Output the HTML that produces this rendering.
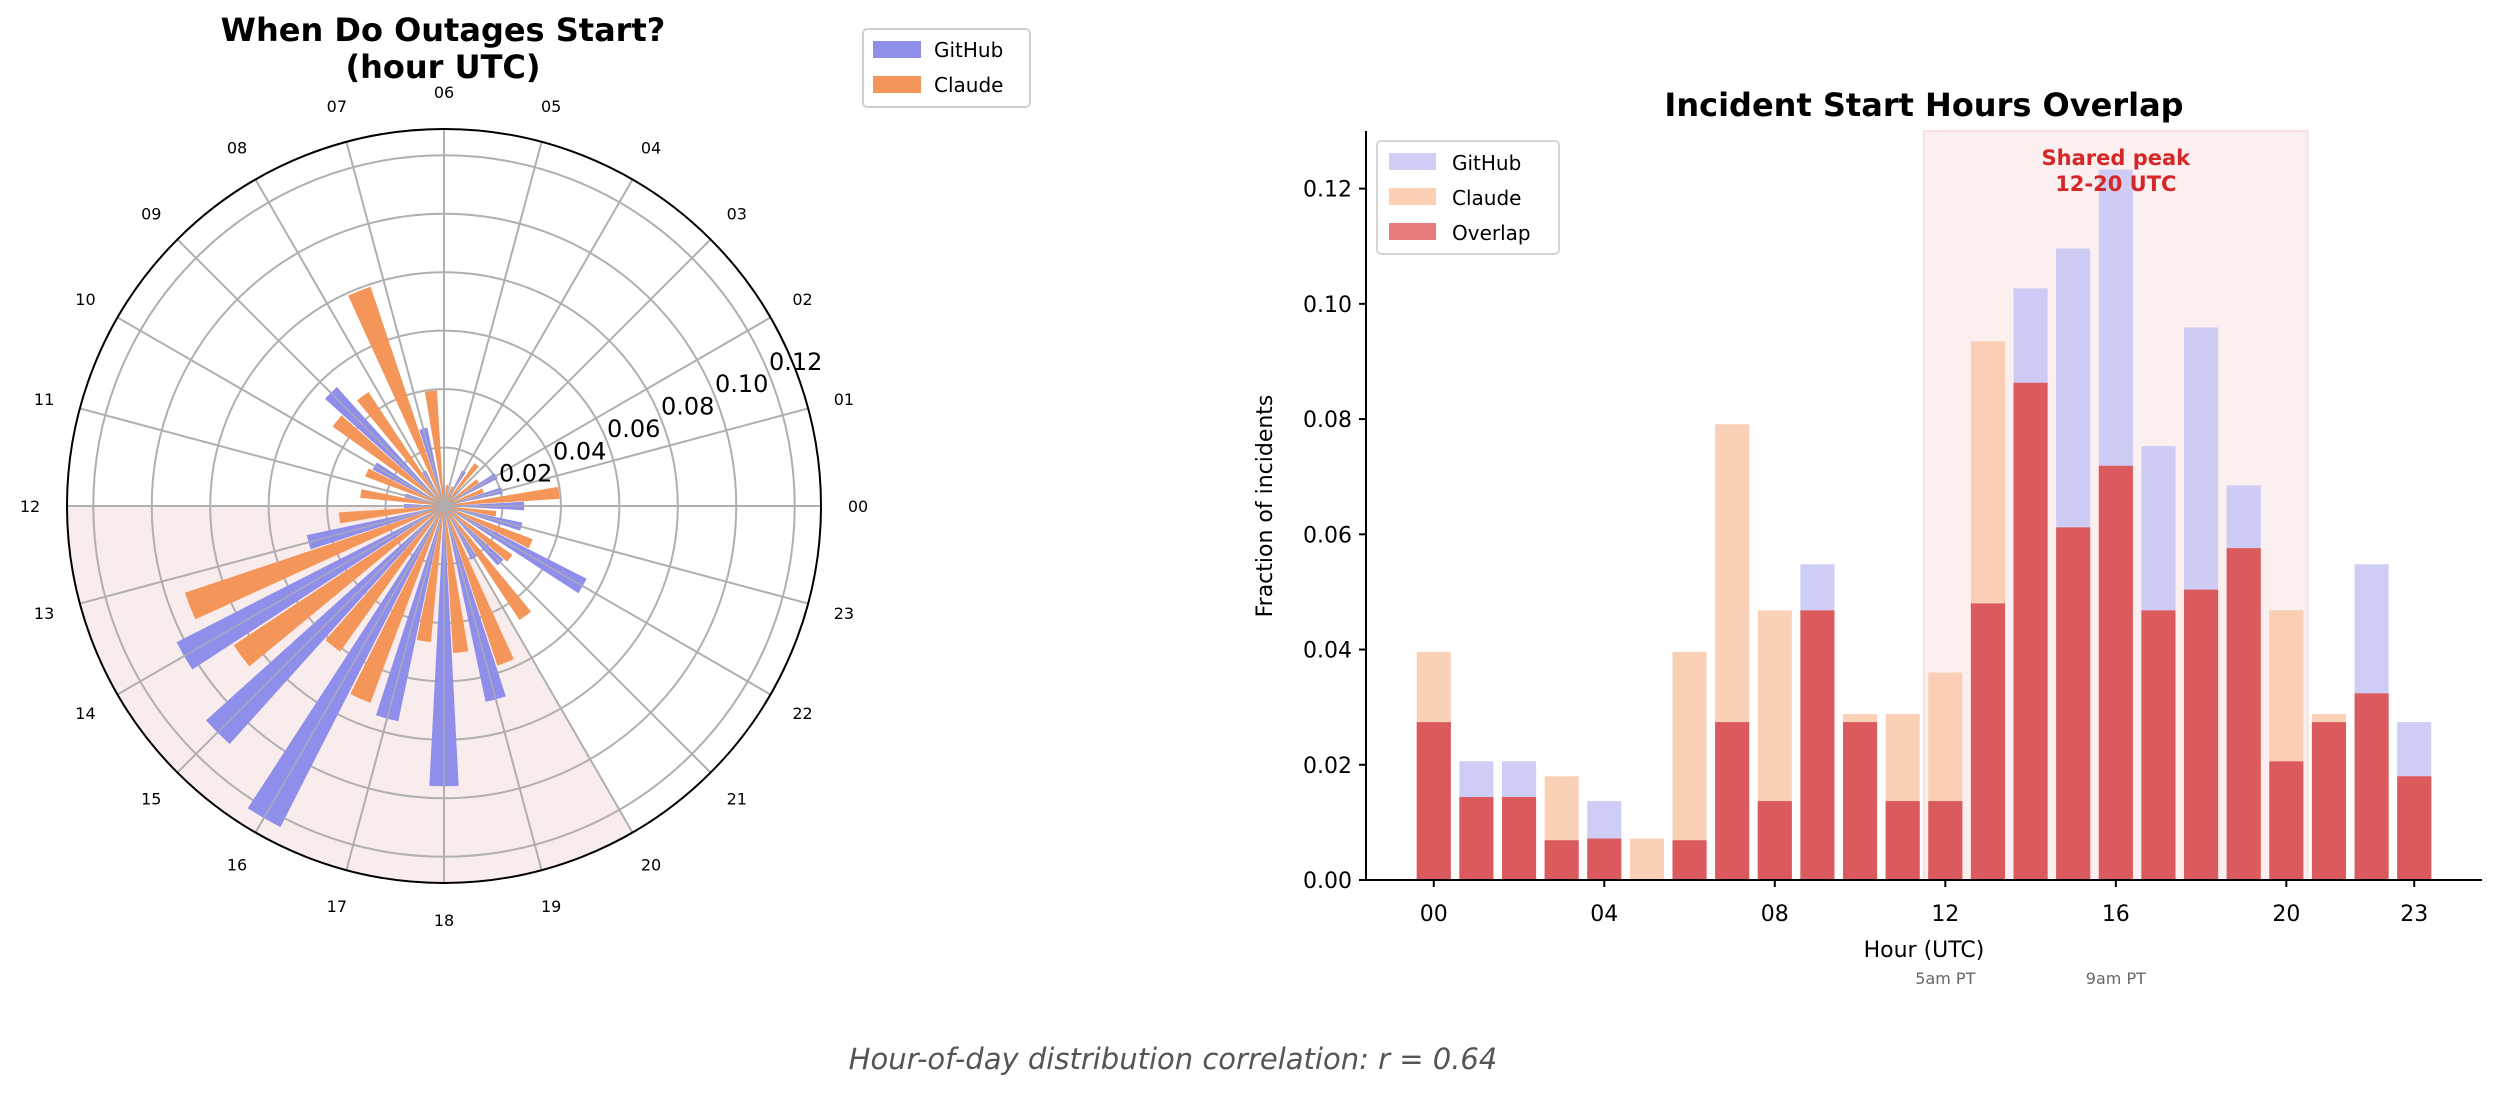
<!DOCTYPE html>
<html><head><meta charset="utf-8"><style>
html,body{margin:0;padding:0;background:#fff;}
svg{display:block;font-family:"DejaVu Sans","Liberation Sans",sans-serif;}
</style></head><body>
<svg id="chart" width="2500" height="1096" viewBox="0 0 2500 1096" xmlns="http://www.w3.org/2000/svg">
<g id="polar"></g>
<g id="bars"></g>
<text x="1173" y="1069" text-anchor="middle" font-size="29" font-style="italic" fill="#555">Hour-of-day distribution correlation: r = 0.64</text>
</svg>
<script>
const hours = [0,1,2,3,4,5,6,7,8,9,10,11,12,13,14,15,16,17,18,19,20,21,22,23];
const githubValues = [0.0274,0.0206,0.0206,0.0069,0.0137,0,0.0069,0.0274,0.0137,0.0548,0.0274,0.0137,0.0137,0.0480,0.1027,0.1096,0.1233,0.0753,0.0959,0.0685,0.0206,0.0274,0.0548,0.0274];
const claudeValues = [0.0396,0.0144,0.0144,0.0180,0.0072,0.0072,0.0396,0.0791,0.0468,0.0468,0.0288,0.0288,0.0360,0.0935,0.0863,0.0612,0.0719,0.0468,0.0504,0.0576,0.0468,0.0288,0.0324,0.0180];
const radialTicks = [0.02,0.04,0.06,0.08,0.10,0.12];
const yTicks = [0,0.02,0.04,0.06,0.08,0.10,0.12];
const xTicks = [0,4,8,12,16,20,23];
const hourLabels = ["00","01","02","03","04","05","06","07","08","09","10","11","12","13","14","15","16","17","18","19","20","21","22","23"];

const NS = "http://www.w3.org/2000/svg";
function mk(parent, tag, attrs, text){
  const e = document.createElementNS(NS, tag);
  for (const k in attrs) e.setAttribute(k, attrs[k]);
  if (text !== undefined) e.textContent = text;
  parent.appendChild(e);
  return e;
}

/* ---------- polar chart ---------- */
const P = document.getElementById('polar');
const cx = 444, cy = 506, R = 377, rMax = 0.129;
const rScale = v => v / rMax * R;
const pt = (deg, r) => [cx + r*Math.cos(deg*Math.PI/180), cy - r*Math.sin(deg*Math.PI/180)];
function wedge(d0, d1, r0, r1){
  const a = pt(d0, r1), b = pt(d1, r1), c = pt(d1, r0), d = pt(d0, r0);
  const large = (d1-d0) > 180 ? 1 : 0;
  return `M${a[0]},${a[1]} A${r1},${r1} 0 ${large} 0 ${b[0]},${b[1]} L${c[0]},${c[1]} ` + (r0>0?`A${r0},${r0} 0 ${large} 1 ${d[0]},${d[1]}`:'') + ' Z';
}
let el;
el = mk(P,'path',{d:wedge(180,300,0,R),fill:'#f9ecec'});


radialTicks.forEach(t=>{
  el = mk(P,'circle',{cx:cx,cy:cy,r:rScale(t),fill:'none',stroke:'#b0b0b0','stroke-width':2});
  
  
});
hours.forEach(h=>{
  const e = pt(h*15, R);
  el = mk(P,'line',{x1:cx,y1:cy,x2:e[0],y2:e[1],stroke:'#b0b0b0','stroke-width':2});
  
  
});
const bw = 6;
hours.forEach((h,i)=>{
  const ang = h*15;
  if (githubValues[i] > 0) {
    el = mk(P,'path',{d:wedge(ang-bw/2, ang+bw/2, 0, rScale(githubValues[i])),fill:'#8f8eea'});
    
    
  }
  if (claudeValues[i] > 0) {
    el = mk(P,'path',{d:wedge(ang+6.5-bw/2, ang+6.5+bw/2, 0, rScale(claudeValues[i])),fill:'#f4965a'});
    
    
  }
});
hours.forEach(h=>{
  const e = pt(h*15, R);
  el = mk(P,'line',{x1:cx,y1:cy,x2:e[0],y2:e[1],stroke:'#b0b0b0','stroke-width':1.5,opacity:0.8});
  
  
});
el = mk(P,'circle',{cx:cx,cy:cy,r:R,fill:'none',stroke:'#000','stroke-width':2});


radialTicks.forEach(t=>{
  const p = pt(22.5, rScale(t));
  el = mk(P,'text',{x:p[0]+1,y:p[1]-2,'font-size':24,fill:'#000'}, t.toFixed(2));
  
  
});
hours.forEach((h,i)=>{
  const p = pt(h*15, 414);
  el = mk(P,'text',{x:p[0],y:p[1]+6,'font-size':16,'text-anchor':'middle',fill:'#000'}, hourLabels[i]);
  
  
});
el = mk(P,'text',{x:443,y:41,'font-size':32,'font-weight':'bold','text-anchor':'middle'},'When Do Outages Start?');


el = mk(P,'text',{x:443,y:78,'font-size':32,'font-weight':'bold','text-anchor':'middle'},'(hour UTC)');


el = mk(P,'rect',{x:863,y:29,width:167,height:78,rx:4,fill:'#fff',stroke:'#d0d0d0','stroke-width':2});


[['GitHub','#8f8eea',0],['Claude','#f4965a',1]].forEach(([n,c,k])=>{
  el = mk(P,'rect',{x:873,y:41+k*35,width:48,height:17,fill:c});
  
  
  el = mk(P,'text',{x:934,y:57+k*35,'font-size':20},n);
  
  
});

/* ---------- bar chart ---------- */
const B = document.getElementById('bars');
const L = 1366, Rt = 2482, Y0 = 880, YT = 131, xMin = -1.59, xMax = 24.59, yMax = 0.13;
const xS = h => L + (h - xMin)/(xMax - xMin)*(Rt - L);
const yS = v => Y0 - v/yMax*(Y0 - YT);
const bW = 0.8*(Rt-L)/(xMax-xMin);
el = mk(B,'rect',{x:xS(11.5),y:YT,width:xS(20.5)-xS(11.5),height:Y0-YT,fill:'#fbefef',stroke:'#f9e0e0','stroke-width':2});


hours.forEach((h,i)=>{
  el = mk(B,'rect',{x:xS(h)-bW/2,y:yS(githubValues[i]),width:bW,height:Y0-yS(githubValues[i]),fill:'#c9c8f4',opacity:0.9});
  
  
  el = mk(B,'rect',{x:xS(h)-bW/2,y:yS(claudeValues[i]),width:bW,height:Y0-yS(claudeValues[i]),fill:'#f9c9aa',opacity:0.85});
  
  
  const ov = Math.min(githubValues[i], claudeValues[i]);
  el = mk(B,'rect',{x:xS(h)-bW/2,y:yS(ov),width:bW,height:Y0-yS(ov),fill:'#db5a5d'});
  
  
});
el = mk(B,'line',{x1:L,y1:YT,x2:L,y2:Y0,stroke:'#000','stroke-width':2});


el = mk(B,'line',{x1:L,y1:Y0,x2:Rt,y2:Y0,stroke:'#000','stroke-width':2});


yTicks.forEach(t=>{
  mk(B,'line',{x1:L-7,y1:yS(t),x2:L,y2:yS(t),stroke:'#000','stroke-width':2});
  el = mk(B,'text',{x:L-14,y:yS(t)+8,'font-size':22,'text-anchor':'end'},t.toFixed(2));
  
  
});
xTicks.forEach(t=>{
  mk(B,'line',{x1:xS(t),y1:Y0,x2:xS(t),y2:Y0+7,stroke:'#000','stroke-width':2});
  el = mk(B,'text',{x:xS(t),y:921,'font-size':22,'text-anchor':'middle'},String(t).padStart(2,'0'));
  
  
});
el = mk(B,'text',{x:1924,y:957,'font-size':22,'text-anchor':'middle'},'Hour (UTC)');


el = mk(B,'text',{x:1272,y:506,'font-size':22,'text-anchor':'middle',transform:'rotate(-90 1272 506)'},'Fraction of incidents');


el = mk(B,'text',{x:1924,y:116,'font-size':32,'font-weight':'bold','text-anchor':'middle'},'Incident Start Hours Overlap');


el = mk(B,'text',{x:xS(16),y:165,'font-size':21,'font-weight':'bold','text-anchor':'middle',fill:'#d62728'},'Shared peak');


el = mk(B,'text',{x:xS(16),y:191,'font-size':21,'font-weight':'bold','text-anchor':'middle',fill:'#d62728'},'12-20 UTC');


el = mk(B,'text',{x:xS(12),y:984,'font-size':16,'text-anchor':'middle',fill:'#666'},'5am PT');


el = mk(B,'text',{x:xS(16),y:984,'font-size':16,'text-anchor':'middle',fill:'#666'},'9am PT');


el = mk(B,'rect',{x:1377,y:141,width:182,height:113,rx:4,fill:'#fff',stroke:'#d0d0d0','stroke-width':2,opacity:0.9});


[['GitHub','#cfcef7',0],['Claude','#fbd0b4',1],['Overlap','#e77b7d',2]].forEach(([n,c,k])=>{
  el = mk(B,'rect',{x:1389,y:153+k*35,width:47,height:17,fill:c});
  
  
  el = mk(B,'text',{x:1452,y:170+k*35,'font-size':20},n);
  
  
});
</script>
</body></html>
